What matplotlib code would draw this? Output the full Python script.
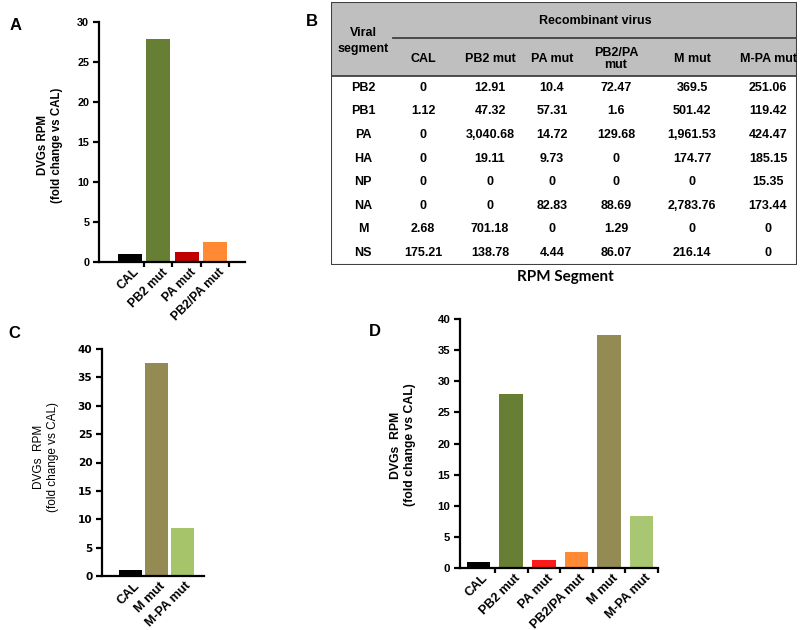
import matplotlib
matplotlib.use("Agg")
import matplotlib.pyplot as plt
import matplotlib.transforms as mtrans
from matplotlib.patches import Rectangle

plt.rcParams['font.family'] = ['Liberation Sans', 'DejaVu Sans']

# panel A
a_names = ['CAL', 'PB2 mut', 'PA mut', 'PB2/PA mut']
a_vals = [1.0, 27.9, 1.3, 2.55]
a_cols = ['#000000', '#677e35', '#c00000', '#ff8a33']

# panel C
c_names = ['CAL', 'M mut', 'M-PA mut']
c_vals = [1.0, 37.6, 8.4]
c_cols = ['#000000', '#948a54', '#a6c46a']

# panel D
d_names = ['CAL', 'PB2 mut', 'PA mut', 'PB2/PA mut', 'M mut', 'M-PA mut']
d_vals = [1.0, 27.9, 1.3, 2.6, 37.5, 8.3]
d_cols = ['#000000', '#677e35', '#ff1a1a', '#ff8a33', '#948a54', '#a9c672']

# panel B table
segments = ['PB2', 'PB1', 'PA', 'HA', 'NP', 'NA', 'M', 'NS']
viruses = ['CAL', 'PB2 mut', 'PA mut', 'PB2/PA\nmut', 'M mut', 'M-PA mut']
cal = ['0', '1.12', '0', '0', '0', '0', '2.68', '175.21']
pb2_mut = ['12.91', '47.32', '3,040.68', '19.11', '0', '0', '701.18', '138.78']
pa_mut = ['10.4', '57.31', '14.72', '9.73', '0', '82.83', '0', '4.44']
pb2pa_mut = ['72.47', '1.6', '129.68', '0', '0', '88.69', '1.29', '86.07']
m_mut = ['369.5', '501.42', '1,961.53', '174.77', '0', '2,783.76', '0', '216.14']
mpa_mut = ['251.06', '119.42', '424.47', '185.15', '15.35', '173.44', '0', '0']
table_cols = [cal, pb2_mut, pa_mut, pb2pa_mut, m_mut, mpa_mut]

W, H = 800, 630
fig = plt.figure(figsize=(8, 6.3), dpi=100)


def px_axes(x0, y0, x1, y1):
    # pixel box (top-left origin) -> axes
    return fig.add_axes([x0 / W, 1 - y1 / H, (x1 - x0) / W, (y1 - y0) / H])


def bar_panel(ax, names, vals, cols, ymax, xlim, width,
              xfont, yfont, yfam='Liberation Sans', minor=True):
    x = list(range(len(names)))
    ax.bar(x, vals, width=width, color=cols)
    ax.set_xlim(*xlim)
    ax.set_ylim(0, ymax)
    ax.set_yticks(range(0, ymax + 1, 5))
    ax.set_xticks(x)
    ax.set_xticklabels(names, rotation=45, ha='right', rotation_mode='anchor')
    if minor:
        ax.set_xticks([i + 0.5 for i in x], minor=True)
    for s in ['top', 'right']:
        ax.spines[s].set_visible(False)
    for s in ['left', 'bottom']:
        ax.spines[s].set_linewidth(1.6)
    ax.tick_params(axis='y', length=4, width=1.6, pad=3)
    ax.tick_params(axis='x', which='major', length=0, pad=3)
    ax.tick_params(axis='x', which='minor', length=3.5, width=1.6)
    shift = mtrans.ScaledTranslation(3 / 100, 0, fig.dpi_scale_trans)
    for t in ax.get_xticklabels():
        t.set_fontsize(xfont)
        t.set_fontweight('bold')
        t.set_transform(t.get_transform() + shift)
    for t in ax.get_yticklabels():
        t.set_fontsize(yfont)
        t.set_fontweight('bold')
        t.set_family(yfam)


# A
axA = px_axes(99, 22, 245, 262)
bar_panel(axA, a_names, a_vals, a_cols, 30, (-1.09, 4.06), 0.85, 8.8, 7.8)
fig.text(50 / W, 1 - 145 / H, 'DVGs RPM\n(fold change vs CAL)', rotation=90,
         ha='center', va='center', fontsize=8.3, fontweight='bold',
         linespacing=1.15)

# C
axC = px_axes(102, 349, 204, 576)
bar_panel(axC, c_names, c_vals, c_cols, 40, (-1.1, 2.85), 0.89, 9.2, 7.6,
          yfam='DejaVu Sans', minor=False)
fig.text(46 / W, 1 - 457 / H, 'DVGs  RPM\n(fold change vs CAL)', rotation=90,
         ha='center', va='center', fontsize=8.5, linespacing=1.15)

# D
axD = px_axes(460, 319, 658, 568)
bar_panel(axD, d_names, d_vals, d_cols, 40, (-0.57, 5.5), 0.72, 9.2, 8.2)
fig.text(403 / W, 1 - 445 / H, 'DVGs  RPM\n(fold change vs CAL)', rotation=90,
         ha='center', va='center', fontsize=8.8, fontweight='bold',
         linespacing=1.15)

# B table
axB = px_axes(331, 2, 797, 265)
axB.set_xlim(0, 466)
axB.set_ylim(263, 0)
axB.axis('off')
edge = '#404040'
axB.add_patch(Rectangle((0, 0), 466, 74, facecolor='#bfbfbf', edgecolor='none'))
axB.add_patch(Rectangle((0, 0), 466, 263, facecolor='none', edgecolor=edge,
                        linewidth=1.5))
axB.plot([0, 466], [74, 74], color=edge, lw=1.3)
axB.plot([62, 466], [36, 36], color=edge, lw=1.3)
col_x = [92, 159, 221, 285, 361, 437]
row_y = [86, 109.5, 133, 156.5, 180, 203.5, 227, 250.5]
tfs = 9
axB.text(264, 19, 'Recombinant virus', ha='center', va='center',
         fontsize=tfs, fontweight='bold')
axB.text(32, 39, 'Viral\nsegment', ha='center', va='center',
         fontsize=tfs, fontweight='bold', linespacing=1.35)
for cx, v in zip(col_x, viruses):
    axB.text(cx, 57, v, ha='center', va='center', fontsize=tfs,
             fontweight='bold', linespacing=1.1)
for ry, seg in zip(row_y, segments):
    axB.text(32, ry, seg, ha='center', va='center', fontsize=tfs,
             fontweight='bold')
for cx, colvals in zip(col_x, table_cols):
    for ry, val in zip(row_y, colvals):
        axB.text(cx, ry, val, ha='center', va='center', fontsize=tfs,
                 fontweight='bold')
fig.text(565 / W, 1 - 277 / H, 'RPM Segment', ha='center', va='center',
         fontsize=11, fontweight='bold', family=['Lato', 'DejaVu Sans'])

# panel letters
for lx, ly, lab in [(16, 26, 'A'), (312, 22, 'B'), (14, 333, 'C'), (375, 332, 'D')]:
    fig.text(lx / W, 1 - ly / H, lab, ha='center', va='center',
             fontsize=12, fontweight='bold')

fig.savefig('out.png', dpi=100)
